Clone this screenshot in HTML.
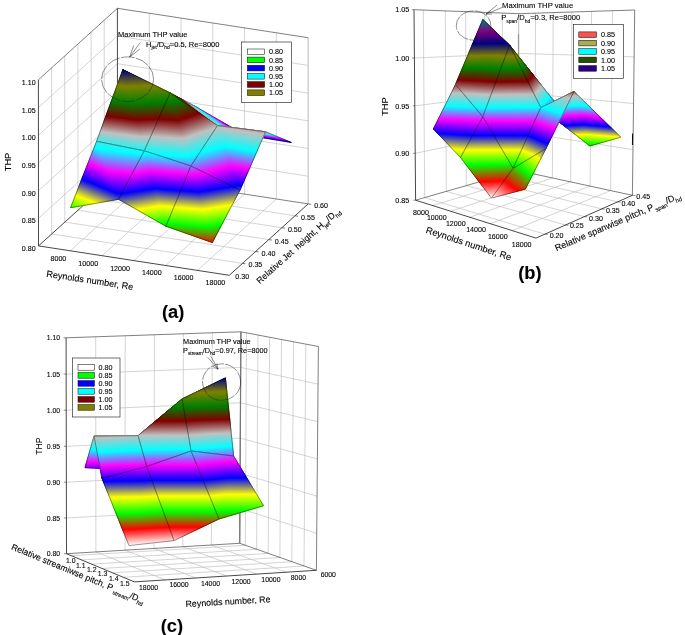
<!DOCTYPE html>
<html><head><meta charset="utf-8"><title>Figure</title>
<style>html,body{margin:0;padding:0;background:#fff}svg{display:block}text{font-family:"Liberation Sans", Arial, sans-serif;fill:#000;stroke:#000;stroke-width:0.1px}</style></head>
<body><svg width="685" height="635" viewBox="0 0 685 635"><rect width="685" height="635" fill="#fff"/>
<defs><linearGradient id="cmA"><stop offset="0.0000" stop-color="#ffffff"/><stop offset="0.0909" stop-color="#ff0000"/><stop offset="0.1818" stop-color="#00ff00"/><stop offset="0.2727" stop-color="#ffff00"/><stop offset="0.3636" stop-color="#0000ff"/><stop offset="0.4545" stop-color="#ff00ff"/><stop offset="0.5455" stop-color="#00ffff"/><stop offset="0.6364" stop-color="#c0c0c0"/><stop offset="0.7273" stop-color="#800000"/><stop offset="0.8182" stop-color="#008000"/><stop offset="0.9091" stop-color="#808000"/><stop offset="1.0000" stop-color="#000080"/></linearGradient>
<linearGradient id="g1" href="#cmA" gradientUnits="userSpaceOnUse" x1="110.43" y1="101.87" x2="122.87" y2="69.70"/>
<linearGradient id="g2" href="#cmA" gradientUnits="userSpaceOnUse" x1="165.60" y1="113.86" x2="170.75" y2="89.68"/>
<linearGradient id="g3" href="#cmA" gradientUnits="userSpaceOnUse" x1="178.06" y1="82.65" x2="168.79" y2="94.59"/>
<linearGradient id="g4" href="#cmA" gradientUnits="userSpaceOnUse" x1="227.48" y1="111.43" x2="211.96" y2="133.43"/>
<linearGradient id="g5" href="#cmA" gradientUnits="userSpaceOnUse" x1="215.90" y1="137.71" x2="218.38" y2="118.87"/>
<linearGradient id="g6" href="#cmA" gradientUnits="userSpaceOnUse" x1="263.18" y1="145.44" x2="266.67" y2="124.44"/>
<linearGradient id="g7" href="#cmA" gradientUnits="userSpaceOnUse" x1="83.59" y1="242.59" x2="106.05" y2="67.62"/>
<linearGradient id="g8" href="#cmA" gradientUnits="userSpaceOnUse" x1="148.94" y1="254.89" x2="140.63" y2="68.98"/>
<linearGradient id="g9" href="#cmA" gradientUnits="userSpaceOnUse" x1="136.66" y1="259.99" x2="150.29" y2="64.97"/>
<linearGradient id="g10" href="#cmA" gradientUnits="userSpaceOnUse" x1="223.52" y1="264.42" x2="158.19" y2="67.17"/>
<linearGradient id="g11" href="#cmA" gradientUnits="userSpaceOnUse" x1="218.88" y1="274.85" x2="162.85" y2="56.69"/>
<linearGradient id="g12" href="#cmA" gradientUnits="userSpaceOnUse" x1="229.01" y1="256.97" x2="261.07" y2="60.93"/>
<linearGradient id="g13" href="#cmA" gradientUnits="userSpaceOnUse" x1="56.27" y1="242.90" x2="127.35" y2="67.97"/>
<linearGradient id="g14" href="#cmA" gradientUnits="userSpaceOnUse" x1="110.25" y1="276.52" x2="134.72" y2="48.09"/>
<linearGradient id="g15" href="#cmA" gradientUnits="userSpaceOnUse" x1="128.73" y1="265.58" x2="98.54" y2="69.51"/>
<linearGradient id="g16" href="#cmA" gradientUnits="userSpaceOnUse" x1="163.44" y1="257.47" x2="178.48" y2="70.92"/>
<linearGradient id="g17" href="#cmA" gradientUnits="userSpaceOnUse" x1="163.60" y1="257.43" x2="177.72" y2="71.11"/>
<linearGradient id="g18" href="#cmA" gradientUnits="userSpaceOnUse" x1="215.28" y1="261.89" x2="185.84" y2="66.78"/>
<linearGradient id="cmB"><stop offset="0.0000" stop-color="#ffffff"/><stop offset="0.0769" stop-color="#ff0000"/><stop offset="0.1538" stop-color="#00ff00"/><stop offset="0.2308" stop-color="#ffff00"/><stop offset="0.3077" stop-color="#0000ff"/><stop offset="0.3846" stop-color="#ff00ff"/><stop offset="0.4615" stop-color="#00ffff"/><stop offset="0.5385" stop-color="#c0c0c0"/><stop offset="0.6154" stop-color="#800000"/><stop offset="0.6923" stop-color="#008000"/><stop offset="0.7692" stop-color="#808000"/><stop offset="0.8462" stop-color="#000080"/><stop offset="0.9231" stop-color="#800080"/><stop offset="1.0000" stop-color="#008080"/></linearGradient>
<linearGradient id="g19" href="#cmB" gradientUnits="userSpaceOnUse" x1="454.77" y1="122.61" x2="482.80" y2="19.57"/>
<linearGradient id="g20" href="#cmB" gradientUnits="userSpaceOnUse" x1="490.90" y1="137.97" x2="513.35" y2="26.78"/>
<linearGradient id="g21" href="#cmB" gradientUnits="userSpaceOnUse" x1="615.40" y1="144.89" x2="488.59" y2="25.40"/>
<linearGradient id="g22" href="#cmB" gradientUnits="userSpaceOnUse" x1="615.31" y1="156.52" x2="452.79" y2="49.78"/>
<linearGradient id="g23" href="#cmB" gradientUnits="userSpaceOnUse" x1="543.37" y1="165.64" x2="537.69" y2="39.02"/>
<linearGradient id="g24" href="#cmB" gradientUnits="userSpaceOnUse" x1="568.33" y1="161.16" x2="578.16" y2="39.70"/>
<linearGradient id="g25" href="#cmB" gradientUnits="userSpaceOnUse" x1="450.11" y1="184.68" x2="459.30" y2="14.14"/>
<linearGradient id="g26" href="#cmB" gradientUnits="userSpaceOnUse" x1="456.61" y1="176.48" x2="454.74" y2="19.90"/>
<linearGradient id="g27" href="#cmB" gradientUnits="userSpaceOnUse" x1="482.26" y1="192.94" x2="483.53" y2="5.95"/>
<linearGradient id="g28" href="#cmB" gradientUnits="userSpaceOnUse" x1="483.53" y1="184.77" x2="481.68" y2="17.83"/>
<linearGradient id="g29" href="#cmB" gradientUnits="userSpaceOnUse" x1="502.83" y1="193.45" x2="580.48" y2="4.12"/>
<linearGradient id="g30" href="#cmB" gradientUnits="userSpaceOnUse" x1="528.72" y1="207.03" x2="589.39" y2="0.27"/>
<linearGradient id="g31" href="#cmB" gradientUnits="userSpaceOnUse" x1="429.47" y1="192.73" x2="441.32" y2="-1.03"/>
<linearGradient id="g32" href="#cmB" gradientUnits="userSpaceOnUse" x1="431.66" y1="186.41" x2="436.86" y2="11.87"/>
<linearGradient id="g33" href="#cmB" gradientUnits="userSpaceOnUse" x1="462.10" y1="199.15" x2="454.20" y2="-19.00"/>
<linearGradient id="g34" href="#cmB" gradientUnits="userSpaceOnUse" x1="460.67" y1="193.39" x2="460.26" y2="5.41"/>
<linearGradient id="g35" href="#cmB" gradientUnits="userSpaceOnUse" x1="491.55" y1="198.09" x2="650.36" y2="-29.11"/>
<linearGradient id="g36" href="#cmB" gradientUnits="userSpaceOnUse" x1="511.01" y1="207.12" x2="659.73" y2="20.23"/>
<linearGradient id="cmC"><stop offset="0.0000" stop-color="#ffffff"/><stop offset="0.0909" stop-color="#ff0000"/><stop offset="0.1818" stop-color="#00ff00"/><stop offset="0.2727" stop-color="#ffff00"/><stop offset="0.3636" stop-color="#0000ff"/><stop offset="0.4545" stop-color="#ff00ff"/><stop offset="0.5455" stop-color="#00ffff"/><stop offset="0.6364" stop-color="#c0c0c0"/><stop offset="0.7273" stop-color="#800000"/><stop offset="0.8182" stop-color="#008000"/><stop offset="0.9091" stop-color="#808000"/><stop offset="1.0000" stop-color="#000080"/></linearGradient>
<linearGradient id="g37" href="#cmC" gradientUnits="userSpaceOnUse" x1="176.75" y1="520.44" x2="168.13" y2="381.64"/>
<linearGradient id="g38" href="#cmC" gradientUnits="userSpaceOnUse" x1="221.13" y1="517.86" x2="212.06" y2="378.78"/>
<linearGradient id="g39" href="#cmC" gradientUnits="userSpaceOnUse" x1="132.71" y1="521.01" x2="123.37" y2="387.75"/>
<linearGradient id="g40" href="#cmC" gradientUnits="userSpaceOnUse" x1="178.71" y1="519.80" x2="165.80" y2="382.40"/>
<linearGradient id="g41" href="#cmC" gradientUnits="userSpaceOnUse" x1="87.29" y1="523.05" x2="81.76" y2="389.21"/>
<linearGradient id="g42" href="#cmC" gradientUnits="userSpaceOnUse" x1="131.52" y1="521.47" x2="125.28" y2="387.01"/>
<linearGradient id="g43" href="#cmC" gradientUnits="userSpaceOnUse" x1="185.78" y1="530.90" x2="181.39" y2="379.17"/>
<linearGradient id="g44" href="#cmC" gradientUnits="userSpaceOnUse" x1="191.35" y1="535.03" x2="180.55" y2="378.55"/>
<linearGradient id="g45" href="#cmC" gradientUnits="userSpaceOnUse" x1="138.35" y1="534.32" x2="137.74" y2="378.85"/>
<linearGradient id="g46" href="#cmC" gradientUnits="userSpaceOnUse" x1="139.85" y1="539.09" x2="136.88" y2="376.11"/>
<linearGradient id="g47" href="#cmC" gradientUnits="userSpaceOnUse" x1="99.53" y1="539.39" x2="90.99" y2="379.63"/>
<linearGradient id="g48" href="#cmC" gradientUnits="userSpaceOnUse" x1="141.05" y1="539.37" x2="136.18" y2="375.95"/>
<linearGradient id="g49" href="#cmC" gradientUnits="userSpaceOnUse" x1="199.91" y1="545.52" x2="183.29" y2="368.71"/>
<linearGradient id="g50" href="#cmC" gradientUnits="userSpaceOnUse" x1="234.03" y1="544.20" x2="233.22" y2="362.01"/>
<linearGradient id="g51" href="#cmC" gradientUnits="userSpaceOnUse" x1="146.68" y1="542.85" x2="146.62" y2="371.07"/>
<linearGradient id="g52" href="#cmC" gradientUnits="userSpaceOnUse" x1="146.68" y1="542.85" x2="146.62" y2="371.07"/>
<linearGradient id="g53" href="#cmC" gradientUnits="userSpaceOnUse" x1="102.68" y1="545.67" x2="100.81" y2="368.59"/>
<linearGradient id="g54" href="#cmC" gradientUnits="userSpaceOnUse" x1="150.98" y1="544.17" x2="141.23" y2="369.41"/></defs>
<line x1="70.3" y1="250.8" x2="149.3" y2="179.4" stroke="#bcbcbc" stroke-width="0.65"/>
<line x1="102.1" y1="255.7" x2="181.1" y2="184.3" stroke="#bcbcbc" stroke-width="0.65"/>
<line x1="133.9" y1="260.6" x2="212.9" y2="189.2" stroke="#bcbcbc" stroke-width="0.65"/>
<line x1="165.7" y1="265.5" x2="244.6" y2="194.1" stroke="#bcbcbc" stroke-width="0.65"/>
<line x1="197.5" y1="270.4" x2="276.4" y2="199" stroke="#bcbcbc" stroke-width="0.65"/>
<line x1="51.7" y1="234" x2="242.5" y2="263.4" stroke="#bcbcbc" stroke-width="0.65"/>
<line x1="64.8" y1="222.1" x2="255.6" y2="251.5" stroke="#bcbcbc" stroke-width="0.65"/>
<line x1="78" y1="210.2" x2="268.8" y2="239.6" stroke="#bcbcbc" stroke-width="0.65"/>
<line x1="91.2" y1="198.3" x2="281.9" y2="227.7" stroke="#bcbcbc" stroke-width="0.65"/>
<line x1="104.3" y1="186.4" x2="295.1" y2="215.8" stroke="#bcbcbc" stroke-width="0.65"/>
<line x1="51.7" y1="234" x2="51.6" y2="67.9" stroke="#bcbcbc" stroke-width="0.65"/>
<line x1="64.8" y1="222.1" x2="64.7" y2="56" stroke="#bcbcbc" stroke-width="0.65"/>
<line x1="78" y1="210.2" x2="77.9" y2="44.1" stroke="#bcbcbc" stroke-width="0.65"/>
<line x1="91.2" y1="198.3" x2="91.1" y2="32.2" stroke="#bcbcbc" stroke-width="0.65"/>
<line x1="104.3" y1="186.4" x2="104.2" y2="20.3" stroke="#bcbcbc" stroke-width="0.65"/>
<line x1="38.5" y1="218.3" x2="117.4" y2="146.8" stroke="#bcbcbc" stroke-width="0.65"/>
<line x1="38.5" y1="190.6" x2="117.4" y2="119.1" stroke="#bcbcbc" stroke-width="0.65"/>
<line x1="38.5" y1="162.9" x2="117.4" y2="91.4" stroke="#bcbcbc" stroke-width="0.65"/>
<line x1="38.5" y1="135.2" x2="117.4" y2="63.7" stroke="#bcbcbc" stroke-width="0.65"/>
<line x1="38.5" y1="107.5" x2="117.4" y2="36" stroke="#bcbcbc" stroke-width="0.65"/>
<line x1="149.3" y1="179.4" x2="149.2" y2="13.2" stroke="#bcbcbc" stroke-width="0.65"/>
<line x1="181.1" y1="184.3" x2="181" y2="18.1" stroke="#bcbcbc" stroke-width="0.65"/>
<line x1="212.9" y1="189.2" x2="212.8" y2="23" stroke="#bcbcbc" stroke-width="0.65"/>
<line x1="244.6" y1="194.1" x2="244.5" y2="27.9" stroke="#bcbcbc" stroke-width="0.65"/>
<line x1="276.4" y1="199" x2="276.3" y2="32.8" stroke="#bcbcbc" stroke-width="0.65"/>
<line x1="117.4" y1="146.8" x2="308.2" y2="176.2" stroke="#bcbcbc" stroke-width="0.65"/>
<line x1="117.4" y1="119.1" x2="308.2" y2="148.5" stroke="#bcbcbc" stroke-width="0.65"/>
<line x1="117.4" y1="91.4" x2="308.2" y2="120.8" stroke="#bcbcbc" stroke-width="0.65"/>
<line x1="117.4" y1="63.7" x2="308.2" y2="93.1" stroke="#bcbcbc" stroke-width="0.65"/>
<line x1="117.4" y1="36" x2="308.2" y2="65.4" stroke="#bcbcbc" stroke-width="0.65"/>
<line x1="117.5" y1="174.5" x2="117.4" y2="8.3" stroke="#333" stroke-width="0.9"/>
<line x1="117.4" y1="8.3" x2="38.4" y2="79.8" stroke="#3a3a3a" stroke-width="0.65"/>
<line x1="117.4" y1="8.3" x2="308.1" y2="37.7" stroke="#3a3a3a" stroke-width="0.65"/>
<line x1="308.2" y1="203.9" x2="308.1" y2="37.7" stroke="#b4b4b4" stroke-width="0.9"/>
<line x1="117.5" y1="174.5" x2="308.2" y2="203.9" stroke="#3a3a3a" stroke-width="0.65"/>
<line x1="117.5" y1="174.5" x2="38.5" y2="245.9" stroke="#333" stroke-width="0.9"/>
<line x1="38.5" y1="245.9" x2="38.4" y2="79.8" stroke="#333" stroke-width="0.9"/>
<line x1="38.5" y1="245.9" x2="229.3" y2="275.3" stroke="#333" stroke-width="0.9"/>
<line x1="229.3" y1="275.3" x2="308.2" y2="203.9" stroke="#333" stroke-width="0.9"/>
<polygon points="122.9,69.7 170.1,93 149.2,96.3" fill="url(#g1)" stroke="url(#g1)" stroke-width="1.0"/>
<polygon points="170.1,93 196.1,106.9 149.2,96.3" fill="url(#g2)" stroke="url(#g2)" stroke-width="1.0"/>
<polygon points="122.9,69.7 170.1,93 149.2,96.3" fill="url(#g1)" stroke="url(#g1)" stroke-width="0.4"/>
<polygon points="170.1,93 196.1,106.9 149.2,96.3" fill="url(#g2)" stroke="url(#g2)" stroke-width="0.4"/>
<polygon points="122.9,69.7 170.1,93 196.1,106.9 149.2,96.3" fill="none" stroke="#000" stroke-width="0.4" stroke-linejoin="round"/>
<polygon points="170.1,93 217.5,125.6 196.1,106.9" fill="url(#g3)" stroke="url(#g3)" stroke-width="1.0"/>
<polygon points="217.5,125.6 244.1,134.7 196.1,106.9" fill="url(#g4)" stroke="url(#g4)" stroke-width="1.0"/>
<polygon points="170.1,93 217.5,125.6 196.1,106.9" fill="url(#g3)" stroke="url(#g3)" stroke-width="0.4"/>
<polygon points="217.5,125.6 244.1,134.7 196.1,106.9" fill="url(#g4)" stroke="url(#g4)" stroke-width="0.4"/>
<polygon points="170.1,93 217.5,125.6 244.1,134.7 196.1,106.9" fill="none" stroke="#000" stroke-width="0.4" stroke-linejoin="round"/>
<polygon points="217.5,125.6 265.5,131.8 244.1,134.7" fill="url(#g5)" stroke="url(#g5)" stroke-width="1.0"/>
<polygon points="265.5,131.8 291.3,142.5 244.1,134.7" fill="url(#g6)" stroke="url(#g6)" stroke-width="1.0"/>
<polygon points="217.5,125.6 265.5,131.8 244.1,134.7" fill="url(#g5)" stroke="url(#g5)" stroke-width="0.4"/>
<polygon points="265.5,131.8 291.3,142.5 244.1,134.7" fill="url(#g6)" stroke="url(#g6)" stroke-width="0.4"/>
<polygon points="217.5,125.6 265.5,131.8 291.3,142.5 244.1,134.7" fill="none" stroke="#000" stroke-width="0.4" stroke-linejoin="round"/>
<polygon points="96.6,141.3 144.3,150.8 122.9,69.7" fill="url(#g7)" stroke="url(#g7)" stroke-width="1.0"/>
<polygon points="144.3,150.8 170.1,93 122.9,69.7" fill="url(#g8)" stroke="url(#g8)" stroke-width="1.0"/>
<polygon points="96.6,141.3 144.3,150.8 122.9,69.7" fill="url(#g7)" stroke="url(#g7)" stroke-width="0.4"/>
<polygon points="144.3,150.8 170.1,93 122.9,69.7" fill="url(#g8)" stroke="url(#g8)" stroke-width="0.4"/>
<polygon points="96.6,141.3 144.3,150.8 170.1,93 122.9,69.7" fill="none" stroke="#000" stroke-width="0.4" stroke-linejoin="round"/>
<polygon points="144.3,150.8 190.9,166 170.1,93" fill="url(#g9)" stroke="url(#g9)" stroke-width="1.0"/>
<polygon points="190.9,166 217.5,125.6 170.1,93" fill="url(#g10)" stroke="url(#g10)" stroke-width="1.0"/>
<polygon points="144.3,150.8 190.9,166 170.1,93" fill="url(#g9)" stroke="url(#g9)" stroke-width="0.4"/>
<polygon points="190.9,166 217.5,125.6 170.1,93" fill="url(#g10)" stroke="url(#g10)" stroke-width="0.4"/>
<polygon points="144.3,150.8 190.9,166 217.5,125.6 170.1,93" fill="none" stroke="#000" stroke-width="0.4" stroke-linejoin="round"/>
<polygon points="190.9,166 240,190 217.5,125.6" fill="url(#g11)" stroke="url(#g11)" stroke-width="1.0"/>
<polygon points="240,190 265.5,131.8 217.5,125.6" fill="url(#g12)" stroke="url(#g12)" stroke-width="1.0"/>
<polygon points="190.9,166 240,190 217.5,125.6" fill="url(#g11)" stroke="url(#g11)" stroke-width="0.4"/>
<polygon points="240,190 265.5,131.8 217.5,125.6" fill="url(#g12)" stroke="url(#g12)" stroke-width="0.4"/>
<polygon points="190.9,166 240,190 265.5,131.8 217.5,125.6" fill="none" stroke="#000" stroke-width="0.4" stroke-linejoin="round"/>
<polygon points="70.6,207.7 118.5,199.3 96.6,141.3" fill="url(#g13)" stroke="url(#g13)" stroke-width="1.0"/>
<polygon points="118.5,199.3 144.3,150.8 96.6,141.3" fill="url(#g14)" stroke="url(#g14)" stroke-width="1.0"/>
<polygon points="70.6,207.7 118.5,199.3 96.6,141.3" fill="url(#g13)" stroke="url(#g13)" stroke-width="0.4"/>
<polygon points="118.5,199.3 144.3,150.8 96.6,141.3" fill="url(#g14)" stroke="url(#g14)" stroke-width="0.4"/>
<polygon points="70.6,207.7 118.5,199.3 144.3,150.8 96.6,141.3" fill="none" stroke="#000" stroke-width="0.4" stroke-linejoin="round"/>
<polygon points="118.5,199.3 166,226.2 144.3,150.8" fill="url(#g15)" stroke="url(#g15)" stroke-width="1.0"/>
<polygon points="166,226.2 190.9,166 144.3,150.8" fill="url(#g16)" stroke="url(#g16)" stroke-width="1.0"/>
<polygon points="118.5,199.3 166,226.2 144.3,150.8" fill="url(#g15)" stroke="url(#g15)" stroke-width="0.4"/>
<polygon points="166,226.2 190.9,166 144.3,150.8" fill="url(#g16)" stroke="url(#g16)" stroke-width="0.4"/>
<polygon points="118.5,199.3 166,226.2 190.9,166 144.3,150.8" fill="none" stroke="#000" stroke-width="0.4" stroke-linejoin="round"/>
<polygon points="166,226.2 212.3,242.5 190.9,166" fill="url(#g17)" stroke="url(#g17)" stroke-width="1.0"/>
<polygon points="212.3,242.5 240,190 190.9,166" fill="url(#g18)" stroke="url(#g18)" stroke-width="1.0"/>
<polygon points="166,226.2 212.3,242.5 190.9,166" fill="url(#g17)" stroke="url(#g17)" stroke-width="0.4"/>
<polygon points="212.3,242.5 240,190 190.9,166" fill="url(#g18)" stroke="url(#g18)" stroke-width="0.4"/>
<polygon points="166,226.2 212.3,242.5 240,190 190.9,166" fill="none" stroke="#000" stroke-width="0.4" stroke-linejoin="round"/>
<text x="66.3" y="260.7" font-size="7.1" text-anchor="end">8000</text>
<text x="98.1" y="265.6" font-size="7.1" text-anchor="end">10000</text>
<text x="129.9" y="270.5" font-size="7.1" text-anchor="end">12000</text>
<text x="161.7" y="275.4" font-size="7.1" text-anchor="end">14000</text>
<text x="193.5" y="280.3" font-size="7.1" text-anchor="end">16000</text>
<text x="225.3" y="285.2" font-size="7.1" text-anchor="end">18000</text>
<text x="235.3" y="279.3" font-size="7.1" text-anchor="start">0.30</text>
<line x1="242.5" y1="263.4" x2="245.5" y2="263.8" stroke="#222" stroke-width="0.6"/>
<text x="248.5" y="267.4" font-size="7.1" text-anchor="start">0.35</text>
<line x1="255.6" y1="251.5" x2="258.6" y2="251.9" stroke="#222" stroke-width="0.6"/>
<text x="261.6" y="255.5" font-size="7.1" text-anchor="start">0.40</text>
<line x1="268.8" y1="239.6" x2="271.8" y2="240" stroke="#222" stroke-width="0.6"/>
<text x="274.8" y="243.6" font-size="7.1" text-anchor="start">0.45</text>
<line x1="281.9" y1="227.7" x2="284.9" y2="228.1" stroke="#222" stroke-width="0.6"/>
<text x="287.9" y="231.7" font-size="7.1" text-anchor="start">0.50</text>
<line x1="295.1" y1="215.8" x2="298.1" y2="216.2" stroke="#222" stroke-width="0.6"/>
<text x="301.1" y="219.8" font-size="7.1" text-anchor="start">0.55</text>
<line x1="308.2" y1="203.9" x2="311.2" y2="204.3" stroke="#222" stroke-width="0.6"/>
<text x="314.2" y="207.9" font-size="7.1" text-anchor="start">0.60</text>
<text x="35.6" y="251" font-size="7.1" text-anchor="end">0.80</text>
<text x="35.6" y="223.3" font-size="7.1" text-anchor="end">0.85</text>
<text x="35.6" y="195.6" font-size="7.1" text-anchor="end">0.90</text>
<text x="35.6" y="167.9" font-size="7.1" text-anchor="end">0.95</text>
<text x="35.6" y="140.2" font-size="7.1" text-anchor="end">1.00</text>
<text x="35.6" y="112.5" font-size="7.1" text-anchor="end">1.05</text>
<text x="35.6" y="84.9" font-size="7.1" text-anchor="end">1.10</text>
<text x="89.4" y="283.3" font-size="9.15" text-anchor="middle" transform="rotate(8.7 89.4 283.3)">Reynolds number, Re</text>
<text x="300.2" y="248" font-size="8.9" text-anchor="middle" transform="rotate(-41.8 300.2 248)">Relative Jet&#160; height, H<tspan dy="2.8" dx="0" font-size="5.9" stroke-width="0.1">jet</tspan><tspan dy="-2.8">/D</tspan><tspan dy="2.8" dx="0" font-size="5.9" stroke-width="0.1">hd</tspan><tspan dy="-2.8"></tspan></text>
<text x="11.2" y="162" font-size="9.2" text-anchor="middle" transform="rotate(-90 11.2 162)">THP</text>
<rect x="241.6" y="42" width="49.8" height="60.4" fill="#fff" stroke="#111" stroke-width="0.6"/>
<rect x="247.4" y="49" width="17.2" height="5.6" fill="#fff" stroke="#000" stroke-width="0.5"/>
<text x="269" y="54.4" font-size="7.2" text-anchor="start">0.80</text>
<rect x="247.4" y="57.1" width="17.2" height="5.6" fill="#0f0" stroke="#000" stroke-width="0.5"/>
<text x="269" y="62.5" font-size="7.2" text-anchor="start">0.85</text>
<rect x="247.4" y="65.3" width="17.2" height="5.6" fill="#00f" stroke="#000" stroke-width="0.5"/>
<text x="269" y="70.7" font-size="7.2" text-anchor="start">0.90</text>
<rect x="247.4" y="73.5" width="17.2" height="5.6" fill="#0ff" stroke="#000" stroke-width="0.5"/>
<text x="269" y="78.9" font-size="7.2" text-anchor="start">0.95</text>
<rect x="247.4" y="81.7" width="17.2" height="5.6" fill="#800000" stroke="#000" stroke-width="0.5"/>
<text x="269" y="87.1" font-size="7.2" text-anchor="start">1.00</text>
<rect x="247.4" y="89.9" width="17.2" height="5.6" fill="#808000" stroke="#000" stroke-width="0.5"/>
<text x="269" y="95.3" font-size="7.2" text-anchor="start">1.05</text>
<ellipse cx="127.6" cy="79.2" rx="26" ry="22.3" fill="none" stroke="#222" stroke-width="0.5" stroke-dasharray="14 1.2"/>
<text x="118" y="37.2" font-size="7.5" text-anchor="start">Maximum THP value</text>
<text x="146" y="47" font-size="7.5" text-anchor="start">H<tspan dy="2.4" dx="0" font-size="5" stroke-width="0.1">jet</tspan><tspan dy="-2.4">/D</tspan><tspan dy="2.4" dx="0" font-size="5" stroke-width="0.1">hd</tspan><tspan dy="-2.4">=0.5, Re=8000</tspan></text>
<line x1="140.3" y1="42.5" x2="129.7" y2="57" stroke="#222" stroke-width="0.5"/>
<line x1="129.7" y1="57" x2="133.7" y2="45.6" stroke="#222" stroke-width="0.5"/>
<line x1="129.7" y1="57" x2="139.8" y2="49.1" stroke="#222" stroke-width="0.5"/>
<text x="173.2" y="318" font-size="18.3" text-anchor="middle" font-weight="bold">(a)</text>
<line x1="432.5" y1="205.6" x2="535" y2="174.2" stroke="#bcbcbc" stroke-width="0.65"/>
<line x1="450.5" y1="211.2" x2="552.4" y2="178" stroke="#bcbcbc" stroke-width="0.65"/>
<line x1="469.7" y1="217.3" x2="570.7" y2="181.9" stroke="#bcbcbc" stroke-width="0.65"/>
<line x1="490.2" y1="223.7" x2="590.1" y2="186.1" stroke="#bcbcbc" stroke-width="0.65"/>
<line x1="512.2" y1="230.7" x2="610.6" y2="190.6" stroke="#bcbcbc" stroke-width="0.65"/>
<line x1="424.7" y1="197.6" x2="544.8" y2="234.2" stroke="#bcbcbc" stroke-width="0.65"/>
<line x1="446.3" y1="191.4" x2="565.5" y2="225" stroke="#bcbcbc" stroke-width="0.65"/>
<line x1="466.3" y1="185.7" x2="584.4" y2="216.6" stroke="#bcbcbc" stroke-width="0.65"/>
<line x1="484.9" y1="180.3" x2="601.7" y2="208.9" stroke="#bcbcbc" stroke-width="0.65"/>
<line x1="502.3" y1="175.3" x2="617.7" y2="201.8" stroke="#bcbcbc" stroke-width="0.65"/>
<line x1="424.7" y1="197.6" x2="423.3" y2="10.1" stroke="#bcbcbc" stroke-width="0.65"/>
<line x1="446.3" y1="191.4" x2="445.3" y2="10.9" stroke="#bcbcbc" stroke-width="0.65"/>
<line x1="466.3" y1="185.7" x2="465.7" y2="11.7" stroke="#bcbcbc" stroke-width="0.65"/>
<line x1="484.9" y1="180.3" x2="484.6" y2="12.4" stroke="#bcbcbc" stroke-width="0.65"/>
<line x1="502.3" y1="175.3" x2="502.3" y2="13.1" stroke="#bcbcbc" stroke-width="0.65"/>
<line x1="415.2" y1="153.3" x2="518.6" y2="131.8" stroke="#bcbcbc" stroke-width="0.65"/>
<line x1="414.8" y1="105.9" x2="518.6" y2="92.8" stroke="#bcbcbc" stroke-width="0.65"/>
<line x1="414.4" y1="58" x2="518.7" y2="53.4" stroke="#bcbcbc" stroke-width="0.65"/>
<line x1="535" y1="174.2" x2="535.5" y2="13.1" stroke="#bcbcbc" stroke-width="0.65"/>
<line x1="552.4" y1="178" x2="553.2" y2="12.6" stroke="#bcbcbc" stroke-width="0.65"/>
<line x1="570.7" y1="181.9" x2="571.9" y2="12" stroke="#bcbcbc" stroke-width="0.65"/>
<line x1="590.1" y1="186.1" x2="591.6" y2="11.4" stroke="#bcbcbc" stroke-width="0.65"/>
<line x1="610.6" y1="190.6" x2="612.5" y2="10.7" stroke="#bcbcbc" stroke-width="0.65"/>
<line x1="518.6" y1="131.8" x2="633" y2="149.6" stroke="#bcbcbc" stroke-width="0.65"/>
<line x1="518.6" y1="92.8" x2="633.5" y2="103.5" stroke="#bcbcbc" stroke-width="0.65"/>
<line x1="518.7" y1="53.4" x2="634.1" y2="56.9" stroke="#bcbcbc" stroke-width="0.65"/>
<line x1="518.5" y1="170.6" x2="518.7" y2="13.7" stroke="#b4b4b4" stroke-width="0.9"/>
<line x1="518.7" y1="13.7" x2="414" y2="9.7" stroke="#3a3a3a" stroke-width="0.65"/>
<line x1="518.7" y1="13.7" x2="634.7" y2="10" stroke="#3a3a3a" stroke-width="0.65"/>
<line x1="632.4" y1="195.3" x2="634.7" y2="10" stroke="#3a3a3a" stroke-width="0.65"/>
<line x1="518.5" y1="170.6" x2="632.4" y2="195.3" stroke="#3a3a3a" stroke-width="0.65"/>
<line x1="518.5" y1="170.6" x2="415.6" y2="200.2" stroke="#3a3a3a" stroke-width="0.65"/>
<line x1="415.6" y1="200.2" x2="414" y2="9.7" stroke="#333" stroke-width="0.9"/>
<line x1="415.6" y1="200.2" x2="536" y2="238.1" stroke="#333" stroke-width="0.9"/>
<line x1="536" y1="238.1" x2="632.4" y2="195.3" stroke="#333" stroke-width="0.9"/>
<line x1="518.5" y1="34" x2="518.6" y2="160" stroke="#999" stroke-width="1.2"/>
<line x1="632.6" y1="133.6" x2="632.5" y2="145" stroke="#111" stroke-width="1.1"/>
<polygon points="482.8,19.6 509.6,45.2 534.3,89.9" fill="url(#g19)" stroke="url(#g19)" stroke-width="1.0"/>
<polygon points="509.6,45.2 560.9,109.8 534.3,89.9" fill="url(#g20)" stroke="url(#g20)" stroke-width="1.0"/>
<polygon points="482.8,19.6 509.6,45.2 534.3,89.9" fill="url(#g19)" stroke="url(#g19)" stroke-width="0.4"/>
<polygon points="509.6,45.2 560.9,109.8 534.3,89.9" fill="url(#g20)" stroke="url(#g20)" stroke-width="0.4"/>
<polygon points="482.8,19.6 509.6,45.2 560.9,109.8 534.3,89.9" fill="none" stroke="#000" stroke-width="0.4" stroke-linejoin="round"/>
<polygon points="509.6,45.2 540.8,107.6 560.9,109.8" fill="url(#g21)" stroke="url(#g21)" stroke-width="1.0"/>
<polygon points="540.8,107.6 589.9,145.9 560.9,109.8" fill="url(#g22)" stroke="url(#g22)" stroke-width="1.0"/>
<polygon points="509.6,45.2 540.8,107.6 560.9,109.8" fill="url(#g21)" stroke="url(#g21)" stroke-width="0.4"/>
<polygon points="540.8,107.6 589.9,145.9 560.9,109.8" fill="url(#g22)" stroke="url(#g22)" stroke-width="0.4"/>
<polygon points="509.6,45.2 540.8,107.6 589.9,145.9 560.9,109.8" fill="none" stroke="#000" stroke-width="0.4" stroke-linejoin="round"/>
<polygon points="540.8,107.6 574,91.5 589.9,145.9" fill="url(#g23)" stroke="url(#g23)" stroke-width="1.0"/>
<polygon points="574,91.5 620.8,137.2 589.9,145.9" fill="url(#g24)" stroke="url(#g24)" stroke-width="1.0"/>
<polygon points="540.8,107.6 574,91.5 589.9,145.9" fill="url(#g23)" stroke="url(#g23)" stroke-width="0.4"/>
<polygon points="574,91.5 620.8,137.2 589.9,145.9" fill="url(#g24)" stroke="url(#g24)" stroke-width="0.4"/>
<polygon points="540.8,107.6 574,91.5 620.8,137.2 589.9,145.9" fill="none" stroke="#000" stroke-width="0.4" stroke-linejoin="round"/>
<polygon points="455.5,84.5 482.8,116.8 509.6,45.2" fill="url(#g25)" stroke="url(#g25)" stroke-width="1.0"/>
<polygon points="455.5,84.5 509.6,45.2 482.8,19.6" fill="url(#g26)" stroke="url(#g26)" stroke-width="1.0"/>
<polygon points="455.5,84.5 482.8,116.8 509.6,45.2" fill="url(#g25)" stroke="url(#g25)" stroke-width="0.4"/>
<polygon points="455.5,84.5 509.6,45.2 482.8,19.6" fill="url(#g26)" stroke="url(#g26)" stroke-width="0.4"/>
<polygon points="455.5,84.5 482.8,116.8 509.6,45.2 482.8,19.6" fill="none" stroke="#000" stroke-width="0.4" stroke-linejoin="round"/>
<polygon points="482.8,116.8 513.1,168.4 540.8,107.6" fill="url(#g27)" stroke="url(#g27)" stroke-width="1.0"/>
<polygon points="482.8,116.8 540.8,107.6 509.6,45.2" fill="url(#g28)" stroke="url(#g28)" stroke-width="1.0"/>
<polygon points="482.8,116.8 513.1,168.4 540.8,107.6" fill="url(#g27)" stroke="url(#g27)" stroke-width="0.4"/>
<polygon points="482.8,116.8 540.8,107.6 509.6,45.2" fill="url(#g28)" stroke="url(#g28)" stroke-width="0.4"/>
<polygon points="482.8,116.8 513.1,168.4 540.8,107.6 509.6,45.2" fill="none" stroke="#000" stroke-width="0.4" stroke-linejoin="round"/>
<polygon points="513.1,168.4 545.9,148.6 540.8,107.6" fill="url(#g29)" stroke="url(#g29)" stroke-width="1.0"/>
<polygon points="545.9,148.6 574,91.5 540.8,107.6" fill="url(#g30)" stroke="url(#g30)" stroke-width="1.0"/>
<polygon points="513.1,168.4 545.9,148.6 540.8,107.6" fill="url(#g29)" stroke="url(#g29)" stroke-width="0.4"/>
<polygon points="545.9,148.6 574,91.5 540.8,107.6" fill="url(#g30)" stroke="url(#g30)" stroke-width="0.4"/>
<polygon points="513.1,168.4 545.9,148.6 574,91.5 540.8,107.6" fill="none" stroke="#000" stroke-width="0.4" stroke-linejoin="round"/>
<polygon points="433.4,129 460.6,157.5 482.8,116.8" fill="url(#g31)" stroke="url(#g31)" stroke-width="1.0"/>
<polygon points="433.4,129 482.8,116.8 455.5,84.5" fill="url(#g32)" stroke="url(#g32)" stroke-width="1.0"/>
<polygon points="433.4,129 460.6,157.5 482.8,116.8" fill="url(#g31)" stroke="url(#g31)" stroke-width="0.4"/>
<polygon points="433.4,129 482.8,116.8 455.5,84.5" fill="url(#g32)" stroke="url(#g32)" stroke-width="0.4"/>
<polygon points="433.4,129 460.6,157.5 482.8,116.8 455.5,84.5" fill="none" stroke="#000" stroke-width="0.4" stroke-linejoin="round"/>
<polygon points="460.6,157.5 491.5,198.1 513.1,168.4" fill="url(#g33)" stroke="url(#g33)" stroke-width="1.0"/>
<polygon points="460.6,157.5 513.1,168.4 482.8,116.8" fill="url(#g34)" stroke="url(#g34)" stroke-width="1.0"/>
<polygon points="460.6,157.5 491.5,198.1 513.1,168.4" fill="url(#g33)" stroke="url(#g33)" stroke-width="0.4"/>
<polygon points="460.6,157.5 513.1,168.4 482.8,116.8" fill="url(#g34)" stroke="url(#g34)" stroke-width="0.4"/>
<polygon points="460.6,157.5 491.5,198.1 513.1,168.4 482.8,116.8" fill="none" stroke="#000" stroke-width="0.4" stroke-linejoin="round"/>
<polygon points="491.5,198.1 525.3,189.1 513.1,168.4" fill="url(#g35)" stroke="url(#g35)" stroke-width="1.0"/>
<polygon points="525.3,189.1 545.9,148.6 513.1,168.4" fill="url(#g36)" stroke="url(#g36)" stroke-width="1.0"/>
<polygon points="491.5,198.1 525.3,189.1 513.1,168.4" fill="url(#g35)" stroke="url(#g35)" stroke-width="0.4"/>
<polygon points="525.3,189.1 545.9,148.6 513.1,168.4" fill="url(#g36)" stroke="url(#g36)" stroke-width="0.4"/>
<polygon points="491.5,198.1 525.3,189.1 545.9,148.6 513.1,168.4" fill="none" stroke="#000" stroke-width="0.4" stroke-linejoin="round"/>
<text x="421" y="214.6" font-size="7.1" text-anchor="middle">8000</text>
<text x="436.8" y="219.6" font-size="7.1" text-anchor="middle">10000</text>
<text x="455.8" y="225.9" font-size="7.1" text-anchor="middle">12000</text>
<text x="476" y="232.4" font-size="7.1" text-anchor="middle">14000</text>
<text x="497.8" y="239.4" font-size="7.1" text-anchor="middle">16000</text>
<text x="521.7" y="246.5" font-size="7.1" text-anchor="middle">18000</text>
<text x="556.6" y="237.9" font-size="7.1" text-anchor="middle">0.20</text>
<text x="576.8" y="227.9" font-size="7.1" text-anchor="middle">0.25</text>
<text x="596" y="220.6" font-size="7.1" text-anchor="middle">0.30</text>
<text x="612.8" y="212.9" font-size="7.1" text-anchor="middle">0.35</text>
<text x="628.3" y="206.1" font-size="7.1" text-anchor="middle">0.40</text>
<text x="643.2" y="199.1" font-size="7.1" text-anchor="middle">0.45</text>
<text x="409.3" y="202.9" font-size="7.25" text-anchor="end">0.85</text>
<line x1="415.6" y1="200.2" x2="413.4" y2="200.2" stroke="#222" stroke-width="0.5"/>
<text x="409.3" y="155.9" font-size="7.25" text-anchor="end">0.90</text>
<line x1="415.2" y1="153.3" x2="413" y2="153.3" stroke="#222" stroke-width="0.5"/>
<text x="409.3" y="108.5" font-size="7.25" text-anchor="end">0.95</text>
<line x1="414.8" y1="105.9" x2="412.6" y2="105.9" stroke="#222" stroke-width="0.5"/>
<text x="409.3" y="60.7" font-size="7.25" text-anchor="end">1.00</text>
<line x1="414.4" y1="58" x2="412.2" y2="58" stroke="#222" stroke-width="0.5"/>
<text x="409.3" y="12.4" font-size="7.25" text-anchor="end">1.05</text>
<line x1="414" y1="9.7" x2="411.8" y2="9.7" stroke="#222" stroke-width="0.5"/>
<line x1="544.8" y1="234.2" x2="547.8" y2="234.5" stroke="#222" stroke-width="0.5"/>
<line x1="565.5" y1="225" x2="568.5" y2="225.3" stroke="#222" stroke-width="0.5"/>
<line x1="584.4" y1="216.6" x2="587.4" y2="216.9" stroke="#222" stroke-width="0.5"/>
<line x1="601.7" y1="208.9" x2="604.7" y2="209.2" stroke="#222" stroke-width="0.5"/>
<line x1="617.7" y1="201.8" x2="620.7" y2="202.1" stroke="#222" stroke-width="0.5"/>
<line x1="632.4" y1="195.3" x2="635.4" y2="195.6" stroke="#222" stroke-width="0.5"/>
<text x="467.8" y="246.6" font-size="9.3" text-anchor="middle" transform="rotate(18.2 467.8 246.6)">Reynolds number, Re</text>
<text x="619" y="224.5" font-size="9.15" text-anchor="middle" transform="rotate(-23.2 619 224.5)">Relative spanwise pitch, P<tspan dy="2.9" dx="0.8" font-size="6" stroke-width="0.1">span</tspan><tspan dy="-2.9">/D</tspan><tspan dy="2.9" dx="0" font-size="6" stroke-width="0.1">hd</tspan><tspan dy="-2.9"></tspan></text>
<text x="388.5" y="106.6" font-size="9.2" text-anchor="middle" transform="rotate(-90 388.5 106.6)">THP</text>
<rect x="573.3" y="24.3" width="50" height="54.2" fill="#fff" stroke="#111" stroke-width="0.6"/>
<rect x="578.8" y="31.9" width="17.7" height="5.6" fill="#ff5050" stroke="#000" stroke-width="0.5"/>
<text x="601" y="37.3" font-size="7.2" text-anchor="start">0.85</text>
<rect x="578.8" y="40.3" width="17.7" height="5.6" fill="#aaaa50" stroke="#000" stroke-width="0.5"/>
<text x="601" y="45.7" font-size="7.2" text-anchor="start">0.90</text>
<rect x="578.8" y="48.7" width="17.7" height="5.6" fill="#0ff" stroke="#000" stroke-width="0.5"/>
<text x="601" y="54.1" font-size="7.2" text-anchor="start">0.95</text>
<rect x="578.8" y="57.1" width="17.7" height="5.6" fill="#285000" stroke="#000" stroke-width="0.5"/>
<text x="601" y="62.5" font-size="7.2" text-anchor="start">1.00</text>
<rect x="578.8" y="65.6" width="17.7" height="5.6" fill="#280080" stroke="#000" stroke-width="0.5"/>
<text x="601" y="71" font-size="7.2" text-anchor="start">1.05</text>
<ellipse cx="473.6" cy="25.5" rx="17.3" ry="14.6" fill="none" stroke="#222" stroke-width="0.5" stroke-dasharray="14 1.2"/>
<text x="502.1" y="7.8" font-size="7.7" text-anchor="start">Maximum THP value</text>
<text x="501.2" y="20.1" font-size="7.55" text-anchor="start">P<tspan dy="2.4" dx="0" font-size="5" stroke-width="0.1">span</tspan><tspan dy="-2.4">/D</tspan><tspan dy="2.4" dx="0" font-size="5" stroke-width="0.1">hd</tspan><tspan dy="-2.4">=0.3, Re=8000</tspan></text>
<line x1="502" y1="7.5" x2="486" y2="14.2" stroke="#222" stroke-width="0.5"/>
<line x1="497" y1="5" x2="486" y2="14.2" stroke="#222" stroke-width="0.5"/>
<line x1="486" y1="14.2" x2="490.5" y2="10.5" stroke="#222" stroke-width="0.5"/>
<line x1="486" y1="14.2" x2="492" y2="14" stroke="#222" stroke-width="0.5"/>
<text x="529.9" y="279.2" font-size="18.3" text-anchor="middle" font-weight="bold">(b)</text>
<line x1="95.9" y1="551.9" x2="165.3" y2="579.9" stroke="#bcbcbc" stroke-width="0.65"/>
<line x1="125" y1="550.2" x2="195.9" y2="578" stroke="#bcbcbc" stroke-width="0.65"/>
<line x1="154" y1="548.5" x2="226.4" y2="576" stroke="#bcbcbc" stroke-width="0.65"/>
<line x1="182.8" y1="546.7" x2="256.6" y2="574.1" stroke="#bcbcbc" stroke-width="0.65"/>
<line x1="211.3" y1="545" x2="286.6" y2="572.2" stroke="#bcbcbc" stroke-width="0.65"/>
<line x1="71.4" y1="555.7" x2="245.3" y2="545.3" stroke="#bcbcbc" stroke-width="0.65"/>
<line x1="81.5" y1="559.9" x2="256.6" y2="549.3" stroke="#bcbcbc" stroke-width="0.65"/>
<line x1="91.7" y1="564.1" x2="268.2" y2="553.4" stroke="#bcbcbc" stroke-width="0.65"/>
<line x1="102.1" y1="568.5" x2="279.9" y2="557.5" stroke="#bcbcbc" stroke-width="0.65"/>
<line x1="112.6" y1="572.8" x2="291.8" y2="561.7" stroke="#bcbcbc" stroke-width="0.65"/>
<line x1="123.4" y1="577.3" x2="304" y2="566" stroke="#bcbcbc" stroke-width="0.65"/>
<line x1="245.3" y1="545.3" x2="246.5" y2="332.9" stroke="#bcbcbc" stroke-width="0.65"/>
<line x1="256.6" y1="549.3" x2="258" y2="335.1" stroke="#bcbcbc" stroke-width="0.65"/>
<line x1="268.2" y1="553.4" x2="269.6" y2="337.3" stroke="#bcbcbc" stroke-width="0.65"/>
<line x1="279.9" y1="557.5" x2="281.5" y2="339.5" stroke="#bcbcbc" stroke-width="0.65"/>
<line x1="291.8" y1="561.7" x2="293.6" y2="341.8" stroke="#bcbcbc" stroke-width="0.65"/>
<line x1="304" y1="566" x2="305.8" y2="344.1" stroke="#bcbcbc" stroke-width="0.65"/>
<line x1="239.9" y1="508.4" x2="316.7" y2="533.3" stroke="#bcbcbc" stroke-width="0.65"/>
<line x1="240.1" y1="473.3" x2="317" y2="496.2" stroke="#bcbcbc" stroke-width="0.65"/>
<line x1="240.3" y1="438.1" x2="317.4" y2="458.9" stroke="#bcbcbc" stroke-width="0.65"/>
<line x1="240.5" y1="402.8" x2="317.7" y2="421.6" stroke="#bcbcbc" stroke-width="0.65"/>
<line x1="240.7" y1="367.4" x2="318" y2="384.1" stroke="#bcbcbc" stroke-width="0.65"/>
<line x1="95.9" y1="551.9" x2="95.7" y2="336.8" stroke="#bcbcbc" stroke-width="0.65"/>
<line x1="125" y1="550.2" x2="125.2" y2="335.8" stroke="#bcbcbc" stroke-width="0.65"/>
<line x1="154" y1="548.5" x2="154.4" y2="334.8" stroke="#bcbcbc" stroke-width="0.65"/>
<line x1="182.8" y1="546.7" x2="183.4" y2="333.8" stroke="#bcbcbc" stroke-width="0.65"/>
<line x1="211.3" y1="545" x2="212.3" y2="332.8" stroke="#bcbcbc" stroke-width="0.65"/>
<line x1="66.4" y1="518" x2="239.9" y2="508.4" stroke="#bcbcbc" stroke-width="0.65"/>
<line x1="66.4" y1="482.2" x2="240.1" y2="473.3" stroke="#bcbcbc" stroke-width="0.65"/>
<line x1="66.3" y1="446.3" x2="240.3" y2="438.1" stroke="#bcbcbc" stroke-width="0.65"/>
<line x1="66.2" y1="410.2" x2="240.5" y2="402.8" stroke="#bcbcbc" stroke-width="0.65"/>
<line x1="66.1" y1="374.1" x2="240.7" y2="367.4" stroke="#bcbcbc" stroke-width="0.65"/>
<line x1="239.7" y1="543.3" x2="240.9" y2="331.8" stroke="#3a3a3a" stroke-width="0.65"/>
<line x1="240.9" y1="331.8" x2="318.4" y2="346.5" stroke="#3a3a3a" stroke-width="0.65"/>
<line x1="240.9" y1="331.8" x2="66.1" y2="337.8" stroke="#3a3a3a" stroke-width="0.65"/>
<line x1="66.5" y1="553.7" x2="66.1" y2="337.8" stroke="#333" stroke-width="0.9"/>
<line x1="239.7" y1="543.3" x2="66.5" y2="553.7" stroke="#3a3a3a" stroke-width="0.65"/>
<line x1="239.7" y1="543.3" x2="316.4" y2="570.3" stroke="#3a3a3a" stroke-width="0.65"/>
<line x1="316.4" y1="570.3" x2="318.4" y2="346.5" stroke="#3a3a3a" stroke-width="0.65"/>
<line x1="316.4" y1="570.3" x2="134.4" y2="581.9" stroke="#333" stroke-width="0.9"/>
<line x1="134.4" y1="581.9" x2="66.5" y2="553.7" stroke="#333" stroke-width="0.9"/>
<line x1="239.7" y1="543.3" x2="240.9" y2="331.8" stroke="#777" stroke-width="1.2"/>
<polygon points="172.8,456.9 216.1,440.6 182,399" fill="url(#g37)" stroke="url(#g37)" stroke-width="1.0"/>
<polygon points="216.1,440.6 225.4,378 182,399" fill="url(#g38)" stroke="url(#g38)" stroke-width="1.0"/>
<polygon points="172.8,456.9 216.1,440.6 182,399" fill="url(#g37)" stroke="url(#g37)" stroke-width="0.4"/>
<polygon points="216.1,440.6 225.4,378 182,399" fill="url(#g38)" stroke="url(#g38)" stroke-width="0.4"/>
<polygon points="172.8,456.9 216.1,440.6 225.4,378 182,399" fill="none" stroke="#000" stroke-width="0.4" stroke-linejoin="round"/>
<polygon points="129.1,469.8 172.8,456.9 138,435.7" fill="url(#g39)" stroke="url(#g39)" stroke-width="1.0"/>
<polygon points="172.8,456.9 182,399 138,435.7" fill="url(#g40)" stroke="url(#g40)" stroke-width="1.0"/>
<polygon points="129.1,469.8 172.8,456.9 138,435.7" fill="url(#g39)" stroke="url(#g39)" stroke-width="0.4"/>
<polygon points="172.8,456.9 182,399 138,435.7" fill="url(#g40)" stroke="url(#g40)" stroke-width="0.4"/>
<polygon points="129.1,469.8 172.8,456.9 182,399 138,435.7" fill="none" stroke="#000" stroke-width="0.4" stroke-linejoin="round"/>
<polygon points="85,467.6 129.1,469.8 94,436.1" fill="url(#g41)" stroke="url(#g41)" stroke-width="1.0"/>
<polygon points="129.1,469.8 138,435.7 94,436.1" fill="url(#g42)" stroke="url(#g42)" stroke-width="1.0"/>
<polygon points="85,467.6 129.1,469.8 94,436.1" fill="url(#g41)" stroke="url(#g41)" stroke-width="0.4"/>
<polygon points="129.1,469.8 138,435.7 94,436.1" fill="url(#g42)" stroke="url(#g42)" stroke-width="0.4"/>
<polygon points="85,467.6 129.1,469.8 138,435.7 94,436.1" fill="none" stroke="#000" stroke-width="0.4" stroke-linejoin="round"/>
<polygon points="182,399 225.4,378 233.6,456" fill="url(#g43)" stroke="url(#g43)" stroke-width="1.0"/>
<polygon points="182,399 233.6,456 191,451" fill="url(#g44)" stroke="url(#g44)" stroke-width="1.0"/>
<polygon points="182,399 225.4,378 233.6,456" fill="url(#g43)" stroke="url(#g43)" stroke-width="0.4"/>
<polygon points="182,399 233.6,456 191,451" fill="url(#g44)" stroke="url(#g44)" stroke-width="0.4"/>
<polygon points="182,399 225.4,378 233.6,456 191,451" fill="none" stroke="#000" stroke-width="0.4" stroke-linejoin="round"/>
<polygon points="138,435.7 182,399 191,451" fill="url(#g45)" stroke="url(#g45)" stroke-width="1.0"/>
<polygon points="138,435.7 191,451 146.7,466.6" fill="url(#g46)" stroke="url(#g46)" stroke-width="1.0"/>
<polygon points="138,435.7 182,399 191,451" fill="url(#g45)" stroke="url(#g45)" stroke-width="0.4"/>
<polygon points="138,435.7 191,451 146.7,466.6" fill="url(#g46)" stroke="url(#g46)" stroke-width="0.4"/>
<polygon points="138,435.7 182,399 191,451 146.7,466.6" fill="none" stroke="#000" stroke-width="0.4" stroke-linejoin="round"/>
<polygon points="94,436.1 138,435.7 102,478.4" fill="url(#g47)" stroke="url(#g47)" stroke-width="1.0"/>
<polygon points="138,435.7 146.7,466.6 102,478.4" fill="url(#g48)" stroke="url(#g48)" stroke-width="1.0"/>
<polygon points="94,436.1 138,435.7 102,478.4" fill="url(#g47)" stroke="url(#g47)" stroke-width="0.4"/>
<polygon points="138,435.7 146.7,466.6 102,478.4" fill="url(#g48)" stroke="url(#g48)" stroke-width="0.4"/>
<polygon points="94,436.1 138,435.7 146.7,466.6 102,478.4" fill="none" stroke="#000" stroke-width="0.4" stroke-linejoin="round"/>
<polygon points="191,451 233.6,456 218.9,519" fill="url(#g49)" stroke="url(#g49)" stroke-width="1.0"/>
<polygon points="233.6,456 263.5,505.7 218.9,519" fill="url(#g50)" stroke="url(#g50)" stroke-width="1.0"/>
<polygon points="191,451 233.6,456 218.9,519" fill="url(#g49)" stroke="url(#g49)" stroke-width="0.4"/>
<polygon points="233.6,456 263.5,505.7 218.9,519" fill="url(#g50)" stroke="url(#g50)" stroke-width="0.4"/>
<polygon points="191,451 233.6,456 263.5,505.7 218.9,519" fill="none" stroke="#000" stroke-width="0.4" stroke-linejoin="round"/>
<polygon points="146.7,466.6 191,451 218.9,519" fill="url(#g51)" stroke="url(#g51)" stroke-width="1.0"/>
<polygon points="146.7,466.6 218.9,519 174,540.6" fill="url(#g52)" stroke="url(#g52)" stroke-width="1.0"/>
<polygon points="146.7,466.6 191,451 218.9,519" fill="url(#g51)" stroke="url(#g51)" stroke-width="0.4"/>
<polygon points="146.7,466.6 218.9,519 174,540.6" fill="url(#g52)" stroke="url(#g52)" stroke-width="0.4"/>
<polygon points="146.7,466.6 191,451 218.9,519 174,540.6" fill="none" stroke="#000" stroke-width="0.4" stroke-linejoin="round"/>
<polygon points="102,478.4 146.7,466.6 129,545.6" fill="url(#g53)" stroke="url(#g53)" stroke-width="1.0"/>
<polygon points="146.7,466.6 174,540.6 129,545.6" fill="url(#g54)" stroke="url(#g54)" stroke-width="1.0"/>
<polygon points="102,478.4 146.7,466.6 129,545.6" fill="url(#g53)" stroke="url(#g53)" stroke-width="0.4"/>
<polygon points="146.7,466.6 174,540.6 129,545.6" fill="url(#g54)" stroke="url(#g54)" stroke-width="0.4"/>
<polygon points="102,478.4 146.7,466.6 174,540.6 129,545.6" fill="none" stroke="#000" stroke-width="0.4" stroke-linejoin="round"/>
<text x="148.6" y="589.5" font-size="6.9" text-anchor="middle">18000</text>
<text x="179" y="587.4" font-size="6.9" text-anchor="middle">16000</text>
<text x="210.5" y="585.7" font-size="6.9" text-anchor="middle">14000</text>
<text x="241.1" y="583.9" font-size="6.9" text-anchor="middle">12000</text>
<text x="270.9" y="581.9" font-size="6.9" text-anchor="middle">10000</text>
<text x="298.4" y="579.8" font-size="6.9" text-anchor="middle">8000</text>
<text x="328.3" y="577.4" font-size="6.9" text-anchor="middle">6000</text>
<text x="70.8" y="562.7" font-size="6.9" text-anchor="middle">1.0</text>
<text x="80.8" y="567.7" font-size="6.9" text-anchor="middle">1.1</text>
<text x="91.8" y="571.8" font-size="6.9" text-anchor="middle">1.2</text>
<text x="102.6" y="576.3" font-size="6.9" text-anchor="middle">1.3</text>
<text x="113.8" y="580.8" font-size="6.9" text-anchor="middle">1.4</text>
<text x="124.7" y="585.8" font-size="6.9" text-anchor="middle">1.5</text>
<text x="60.2" y="556.3" font-size="6.9" text-anchor="end">0.80</text>
<line x1="66.5" y1="553.7" x2="64" y2="553.7" stroke="#222" stroke-width="0.5"/>
<text x="60.2" y="520.6" font-size="6.9" text-anchor="end">0.85</text>
<line x1="66.4" y1="518" x2="63.9" y2="518" stroke="#222" stroke-width="0.5"/>
<text x="60.2" y="484.8" font-size="6.9" text-anchor="end">0.90</text>
<line x1="66.4" y1="482.2" x2="63.9" y2="482.2" stroke="#222" stroke-width="0.5"/>
<text x="60.2" y="448.8" font-size="6.9" text-anchor="end">0.95</text>
<line x1="66.3" y1="446.3" x2="63.8" y2="446.3" stroke="#222" stroke-width="0.5"/>
<text x="60.2" y="412.8" font-size="6.9" text-anchor="end">1.00</text>
<line x1="66.2" y1="410.2" x2="63.7" y2="410.2" stroke="#222" stroke-width="0.5"/>
<text x="60.2" y="376.7" font-size="6.9" text-anchor="end">1.05</text>
<line x1="66.1" y1="374.1" x2="63.6" y2="374.1" stroke="#222" stroke-width="0.5"/>
<text x="60.2" y="340.4" font-size="6.9" text-anchor="end">1.10</text>
<line x1="66.1" y1="337.8" x2="63.6" y2="337.8" stroke="#222" stroke-width="0.5"/>
<text x="228.2" y="604.6" font-size="8.85" text-anchor="middle" transform="rotate(-3.3 228.2 604.6)">Reynolds number, Re</text>
<text x="76.8" y="576.4" font-size="8.7" text-anchor="middle" transform="rotate(22.4 76.8 576.4)">Relative streamiwse pitch, P<tspan dy="2.8" dx="1.5" font-size="5.7" stroke-width="0.1">stream</tspan><tspan dy="-2.8">/D</tspan><tspan dy="2.8" dx="0" font-size="5.7" stroke-width="0.1">hd</tspan><tspan dy="-2.8"></tspan></text>
<text x="41.6" y="446.2" font-size="8.6" text-anchor="middle" transform="rotate(-90 41.6 446.2)">THP</text>
<rect x="72.6" y="358" width="47.4" height="59" fill="#fff" stroke="#111" stroke-width="0.6"/>
<rect x="78" y="364.6" width="16.4" height="5.6" fill="#fff" stroke="#000" stroke-width="0.5"/>
<text x="98.4" y="370" font-size="7.2" text-anchor="start">0.80</text>
<rect x="78" y="372.6" width="16.4" height="5.6" fill="#0f0" stroke="#000" stroke-width="0.5"/>
<text x="98.4" y="378" font-size="7.2" text-anchor="start">0.85</text>
<rect x="78" y="380.6" width="16.4" height="5.6" fill="#00f" stroke="#000" stroke-width="0.5"/>
<text x="98.4" y="386" font-size="7.2" text-anchor="start">0.90</text>
<rect x="78" y="388.6" width="16.4" height="5.6" fill="#0ff" stroke="#000" stroke-width="0.5"/>
<text x="98.4" y="394" font-size="7.2" text-anchor="start">0.95</text>
<rect x="78" y="396.6" width="16.4" height="5.6" fill="#800000" stroke="#000" stroke-width="0.5"/>
<text x="98.4" y="402" font-size="7.2" text-anchor="start">1.00</text>
<rect x="78" y="404.6" width="16.4" height="5.6" fill="#808000" stroke="#000" stroke-width="0.5"/>
<text x="98.4" y="410" font-size="7.2" text-anchor="start">1.05</text>
<ellipse cx="221.6" cy="382.1" rx="19.1" ry="18.3" fill="none" stroke="#222" stroke-width="0.5" stroke-dasharray="14 1.2"/>
<text x="183.1" y="344.4" font-size="7.3" text-anchor="start">Maximum THP value</text>
<text x="183.1" y="352.9" font-size="7.3" text-anchor="start">P<tspan dy="2.3" dx="0" font-size="4.8" stroke-width="0.1">stream</tspan><tspan dy="-2.3">/D</tspan><tspan dy="2.3" dx="0" font-size="4.8" stroke-width="0.1">hd</tspan><tspan dy="-2.3">=0.97, Re=8000</tspan></text>
<line x1="207.9" y1="357.4" x2="218" y2="369.2" stroke="#222" stroke-width="0.5"/>
<line x1="211" y1="356.5" x2="218" y2="369.2" stroke="#222" stroke-width="0.5"/>
<line x1="218" y1="369.2" x2="213" y2="366.5" stroke="#222" stroke-width="0.5"/>
<line x1="218" y1="369.2" x2="216.8" y2="363.5" stroke="#222" stroke-width="0.5"/>
<text x="171.8" y="631.5" font-size="18.3" text-anchor="middle" font-weight="bold">(c)</text>
</svg></body></html>
